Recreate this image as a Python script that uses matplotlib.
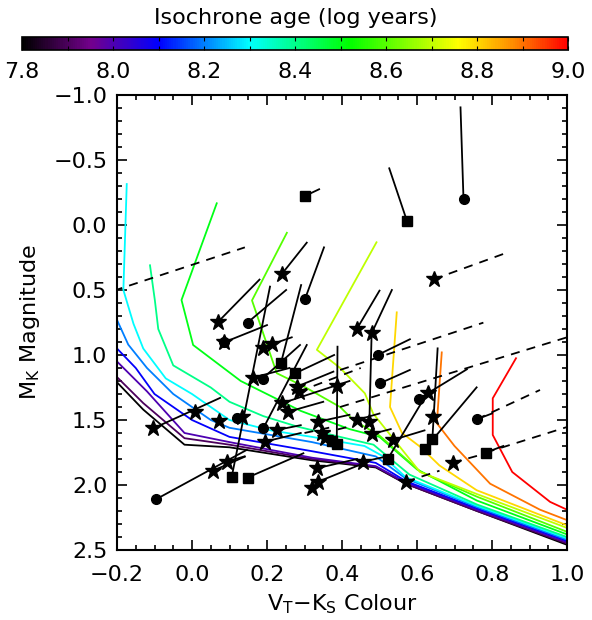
import numpy as np
import matplotlib
matplotlib.use("Agg")
import matplotlib.pyplot as plt
from matplotlib.colors import LinearSegmentedColormap, Normalize
from matplotlib.colorbar import ColorbarBase
from matplotlib.ticker import MultipleLocator, FuncFormatter

plt.rcParams["font.family"] = ["DejaVu Sans"]

# ------------------------------------------------------------
# isochrones (V_T-K_S, M_K), one per log age
# ------------------------------------------------------------
ages = [7.8, 7.9, 8.0, 8.1, 8.2, 8.3, 8.4, 8.5, 8.6, 8.7, 8.8, 8.9, 9.0]

iso_78_x = [-0.2, -0.13, -0.02, 0.10, 0.32, 0.49, 0.57, 0.76, 1.0]
iso_78_y = [1.21, 1.42, 1.69, 1.71, 1.81, 1.865, 1.99, 2.20, 2.46]
iso_79_x = [-0.2, -0.13, -0.02, 0.10, 0.32, 0.49, 0.57, 0.76, 1.0]
iso_79_y = [1.17, 1.37, 1.64, 1.69, 1.80, 1.86, 1.99, 2.20, 2.45]
iso_80_x = [-0.2, -0.12, -0.02, 0.10, 0.32, 0.49, 0.57, 0.76, 1.0]
iso_80_y = [1.05, 1.28, 1.60, 1.67, 1.79, 1.855, 1.98, 2.19, 2.44]
iso_81_x = [-0.2, -0.15, -0.10, 0.0, 0.10, 0.32, 0.49, 0.57, 0.76, 1.0]
iso_81_y = [0.95, 1.10, 1.30, 1.50, 1.63, 1.74, 1.83, 1.97, 2.18, 2.43]
iso_82_x = [-0.2, -0.17, -0.12, -0.05, 0.05, 0.10, 0.32, 0.49, 0.57, 0.76, 1.0]
iso_82_y = [0.73, 0.92, 1.10, 1.30, 1.50, 1.56, 1.67, 1.78, 1.95, 2.17, 2.42]
iso_83_x = [-0.174, -0.183, -0.156, -0.13, -0.07, 0.0, 0.10, 0.21, 0.32, 0.46, 0.51, 0.57, 0.76, 1.0]
iso_83_y = [-0.315, 0.50, 0.76, 0.95, 1.18, 1.30, 1.50, 1.58, 1.63, 1.70, 1.78, 1.94, 2.16, 2.41]
iso_84_x = [-0.112, -0.099, -0.09, -0.05, 0.05, 0.10, 0.19, 0.28, 0.395, 0.484, 0.58, 0.76, 1.0]
iso_84_y = [0.31, 0.58, 0.80, 1.08, 1.25, 1.36, 1.47, 1.55, 1.63, 1.69, 1.92, 2.15, 2.40]
iso_85_x = [0.066, -0.028, 0.003, 0.13, 0.29, 0.42, 0.50, 0.60, 0.76, 1.0]
iso_85_y = [-0.167, 0.577, 0.923, 1.20, 1.43, 1.57, 1.63, 1.88, 2.12, 2.38]
iso_86_x = [0.253, 0.16, 0.226, 0.297, 0.395, 0.43, 0.50, 0.61, 0.76, 1.0]
iso_86_y = [0.06, 0.58, 1.14, 1.24, 1.40, 1.50, 1.62, 1.90, 2.09, 2.36]
iso_87_x = [0.492, 0.333, 0.395, 0.461, 0.483, 0.608, 0.76, 1.0]
iso_87_y = [0.133, 0.96, 1.10, 1.295, 1.45, 1.90, 2.07, 2.33]
iso_88_x = [0.546, 0.528, 0.56, 0.608, 0.66, 0.759, 1.0]
iso_88_y = [0.672, 1.40, 1.60, 1.705, 1.85, 2.04, 2.31]
iso_89_x = [0.666, 0.653, 0.70, 0.795, 0.928, 1.0]
iso_89_y = [0.98, 1.525, 1.70, 1.99, 2.19, 2.27]
iso_90_x = [0.864, 0.802, 0.802, 0.854, 0.955, 1.0]
iso_90_y = [1.025, 1.333, 1.615, 1.90, 2.13, 2.19]

# ------------------------------------------------------------
# stars (colour, magnitude) by symbol
# ------------------------------------------------------------
star_x = [0.644, 0.239, 0.070, 0.086, 0.190, 0.212, 0.163, 0.279, 0.284, 0.239,
          0.257, 0.132, 0.008, -0.103, 0.073, 0.226, 0.195, 0.093, 0.057, 0.337,
          0.346, 0.355, 0.386, 0.332, 0.337, 0.319, 0.439, 0.479, 0.628, 0.642,
          0.695, 0.571, 0.439, 0.473, 0.479, 0.535, 0.457]
star_y = [0.418, 0.379, 0.744, 0.902, 0.949, 0.918, 1.174, 1.244, 1.282, 1.372,
          1.436, 1.474, 1.440, 1.564, 1.504, 1.577, 1.666, 1.820, 1.889, 1.513,
          1.603, 1.640, 1.238, 1.872, 1.974, 2.025, 0.802, 0.833, 1.290, 1.474,
          1.828, 1.974, 1.500, 1.513, 1.608, 1.654, 1.820]

circ_x = [0.724, 0.301, 0.148, 0.086, 0.188, 0.190, 0.119, -0.096, 0.495, 0.501, 0.604, 0.759]
circ_y = [-0.198, 0.572, 0.751, 0.902, 1.182, 1.564, 1.487, 2.110, 1.000, 1.218, 1.338, 1.495]

sq_x = [0.301, 0.573, 0.237, 0.275, 0.106, 0.148, 0.374, 0.386, 0.522, 0.641, 0.621, 0.783]
sq_y = [-0.223, -0.033, 1.064, 1.141, 1.936, 1.943, 1.662, 1.687, 1.800, 1.646, 1.723, 1.751]

# solid vectors: start -> end
solid_x0 = [0.301, 0.573, 0.724, 0.239, 0.301, 0.070, 0.148, 0.086, 0.106, 0.212,
            0.237, 0.275, 0.188, 0.163, -0.103, 0.148, -0.096, 0.386, 0.057, 0.439,
            0.479, 0.479, 0.495, 0.501, 0.604, 0.641, 0.621, 0.522, 0.759, 0.783,
            0.279, 0.239, 0.257, 0.226, 0.195, 0.190, 0.093, 0.337, 0.332, 0.337,
            0.439, 0.479, 0.535, 0.457]
solid_y0 = [-0.223, -0.033, -0.198, 0.379, 0.572, 0.744, 0.751, 0.902, 1.936, 0.918,
            1.064, 1.141, 1.182, 1.174, 1.564, 1.943, 2.110, 1.687, 1.889, 0.802,
            0.833, 0.833, 1.000, 1.218, 1.338, 1.646, 1.723, 1.800, 1.495, 1.751,
            1.244, 1.372, 1.436, 1.577, 1.666, 1.564, 1.820, 1.513, 1.872, 1.974,
            1.500, 1.608, 1.654, 1.820]
solid_x1 = [0.339, 0.526, 0.716, 0.306, 0.352, 0.180, 0.251, 0.200, 0.208, 0.266,
            0.291, 0.379, 0.288, 0.260, 0.075, 0.297, 0.146, 0.388, 0.141, 0.500,
            0.533, 0.473, 0.581, 0.581, 0.733, 0.655, 0.759, 0.628, 0.800, 0.830,
            0.377, 0.420, 0.350, 0.290, 0.290, 0.306, 0.140, 0.420, 0.440, 0.460,
            0.500, 0.530, 0.620, 0.520]
solid_y1 = [-0.275, -0.436, -0.905, 0.136, 0.172, 0.420, 0.500, 0.770, 0.474, 0.864,
            0.462, 1.000, 0.923, 1.100, 1.330, 1.756, 1.730, 0.936, 1.782, 0.505,
            0.500, 1.513, 0.879, 1.115, 1.110, 0.949, 1.249, 1.290, 1.450, 1.700,
            1.128, 1.200, 1.360, 1.540, 1.600, 0.923, 1.780, 1.460, 1.800, 1.830,
            1.450, 1.570, 1.580, 1.780]

# dashed vectors
dash_x0 = [-0.25, 0.644, 0.395, 0.395, 0.759, 0.783, 0.571, 0.695, 0.284, 0.300, 0.346]
dash_y0 = [0.545, 0.418, 1.115, 1.400, 1.495, 1.751, 1.974, 1.828, 1.282, 1.600, 1.603]
dash_x1 = [0.141, 0.830, 0.777, 1.000, 0.928, 1.000, 0.660, 0.780, 0.450, 0.380, 0.420]
dash_y1 = [0.172, 0.223, 0.751, 0.864, 1.269, 1.554, 1.890, 1.760, 1.100, 1.550, 1.550]

iso_x = [iso_78_x, iso_79_x, iso_80_x, iso_81_x, iso_82_x, iso_83_x, iso_84_x,
         iso_85_x, iso_86_x, iso_87_x, iso_88_x, iso_89_x, iso_90_x]
iso_y = [iso_78_y, iso_79_y, iso_80_y, iso_81_y, iso_82_y, iso_83_y, iso_84_y,
         iso_85_y, iso_86_y, iso_87_y, iso_88_y, iso_89_y, iso_90_y]

cmap = LinearSegmentedColormap.from_list("idl_rainbow", [
    (0.0, (0, 0, 0)),
    (0.125, (0.45, 0, 0.55)),
    (0.25, (0, 0, 1)),
    (0.4167, (0, 1, 1)),
    (0.6, (0, 1, 0)),
    (0.8, (1, 1, 0)),
    (0.9, (1, 0.55, 0)),
    (1.0, (1, 0, 0)),
])
norm = Normalize(7.8, 9.0)

fmt = FuncFormatter(lambda v, p: ("%.1f" % v).replace("-", "\u2212"))

fig = plt.figure(figsize=(5.92, 6.2), dpi=100)
ax = fig.add_axes([117 / 592, 70 / 620, 450 / 592, 455 / 620])

for age, xs, ys in zip(ages, iso_x, iso_y):
    ax.plot(xs, ys, color=cmap(norm(age)), lw=1.3, zorder=2)

for x0, y0, x1, y1 in zip(solid_x0, solid_y0, solid_x1, solid_y1):
    ax.plot([x0, x1], [y0, y1], color="black", lw=1.3, zorder=3)
for x0, y0, x1, y1 in zip(dash_x0, dash_y0, dash_x1, dash_y1):
    ax.plot([x0, x1], [y0, y1], color="black", lw=1.3, ls=(0, (5, 4)), zorder=3)

ax.plot(star_x, star_y, "*", color="black", ms=12, ls="none", zorder=4)
ax.plot(circ_x, circ_y, "o", color="black", ms=7, ls="none", zorder=4)
ax.plot(sq_x, sq_y, "s", color="black", ms=7.5, ls="none", zorder=4)

ax.set_xlim(-0.2, 1.0)
ax.set_ylim(2.5, -1.0)
ax.xaxis.set_major_locator(MultipleLocator(0.2))
ax.xaxis.set_minor_locator(MultipleLocator(0.05))
ax.yaxis.set_major_locator(MultipleLocator(0.5))
ax.yaxis.set_minor_locator(MultipleLocator(0.1))
ax.xaxis.set_major_formatter(fmt)
ax.yaxis.set_major_formatter(fmt)
ax.tick_params(which="both", direction="in", top=True, right=True, width=1.2,
               labelsize=16)
ax.tick_params(which="major", length=7)
ax.tick_params(which="minor", length=3.5)
ax.tick_params(axis="x", pad=11)
ax.tick_params(axis="y", pad=7)
for sp in ax.spines.values():
    sp.set_linewidth(1.5)
ax.set_xlabel("V$_\\mathregular{T}$\u2212K$_\\mathregular{S}$ Colour", fontsize=16, labelpad=5)
ax.set_ylabel("M$_\\mathregular{K}$ Magnitude", fontsize=16, labelpad=8)

# colour bar across the top
cax = fig.add_axes([22 / 592, (620 - 50) / 620, 546 / 592, 13 / 620])
cb = ColorbarBase(cax, cmap=cmap, norm=norm, orientation="horizontal")
cb.set_ticks([7.8, 8.0, 8.2, 8.4, 8.6, 8.8, 9.0])
cb.ax.xaxis.set_minor_locator(MultipleLocator(0.1))
cb.ax.xaxis.set_major_formatter(fmt)
cb.ax.tick_params(which="both", direction="in", top=True, bottom=True,
                  labelsize=16, pad=9, length=3, width=0.8)
cb.outline.set_linewidth(1.2)
fig.text(0.5, 1 - 18 / 620, "Isochrone age (log years)", ha="center", va="center",
         fontsize=16)

fig.savefig("out.png", dpi=100)
